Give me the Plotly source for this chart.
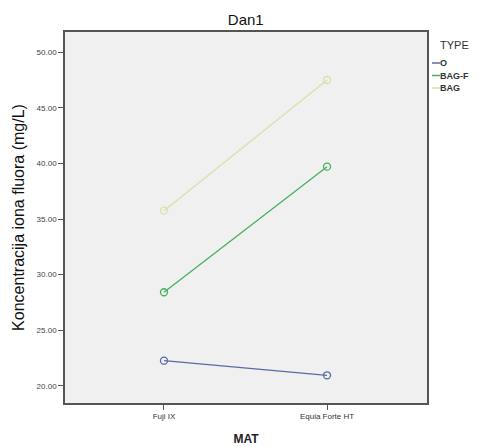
import plotly.graph_objects as go

categories = ["Fuji IX", "Equia Forte HT"]
series_names = ["O", "BAG-F", "BAG"]
o_values = [22.27, 20.96]
bagf_values = [28.42, 39.70]
bag_values = [35.75, 47.49]
colors = ["#5a6aa8", "#45b05e", "#dcdfa8"]
y_ticks = [20, 25, 30, 35, 40, 45, 50]

W, H = 479, 446
ML, MR, MT, MB = 65, 52, 32, 43

fig = go.Figure()
for name, vals, c in zip(series_names, [o_values, bagf_values, bag_values], colors):
    fig.add_trace(go.Scatter(
        x=[0, 1], y=vals, name=name, mode="lines+markers",
        line=dict(color=c, width=1.3),
        marker=dict(symbol="circle-open", size=7, color=c, line=dict(width=1.3)),
        showlegend=False,
    ))

# manual legend in the right margin (paper coords)
def px_x(p):
    return (p - ML) / (W - ML - MR)

def px_y(p):
    return 1 - (p - MT) / (H - MT - MB)

fig.add_annotation(text="TYPE", xref="paper", yref="paper", x=px_x(454), y=px_y(45),
                   xanchor="center", yanchor="middle", showarrow=False,
                   font=dict(size=11, color="#333333"))
for i, (name, c) in enumerate(zip(series_names, colors)):
    yy = px_y(63 + i * 12.5)
    fig.add_shape(type="line", xref="paper", yref="paper", x0=px_x(432), x1=px_x(440),
                  y0=yy, y1=yy, line=dict(color=c, width=1.5))
    fig.add_annotation(text="<b>" + name + "</b>", xref="paper", yref="paper", x=px_x(438), y=yy,
                       xanchor="left", yanchor="middle", showarrow=False,
                       font=dict(size=9, color="#333333"))

fig.update_layout(
    width=W, height=H,
    margin=dict(l=ML, r=MR, t=MT, b=MB, autoexpand=False),
    paper_bgcolor="white",
    plot_bgcolor="#f0f0f0",
    font=dict(family="Liberation Sans, Arial", color="#333333"),
    title=dict(text="Dan1", x=0.513, xanchor="center", y=0.955, yanchor="middle",
               font=dict(size=15, color="#111111")),
    showlegend=False,
    xaxis=dict(
        range=[-0.607, 1.613], tickvals=[0, 1], ticktext=categories,
        showgrid=False, zeroline=False,
        showline=True, mirror=True, linecolor="#555555", linewidth=1.5,
        ticks="outside", ticklen=5, tickcolor="#555555",
        tickfont=dict(size=8, color="#333333"),
        title=dict(text="<b>MAT</b>", font=dict(size=12, color="#222222"), standoff=14),
    ),
    yaxis=dict(
        range=[18.47, 51.8], tickvals=y_ticks,
        ticktext=[f"{v:.2f}" for v in y_ticks],
        showgrid=False, zeroline=False,
        showline=True, mirror=True, linecolor="#555555", linewidth=1.5,
        ticks="outside", ticklen=5, tickcolor="#555555",
        tickfont=dict(size=8, color="#444444"),
        title=dict(text="Koncentracija iona fluora (mg/L)", font=dict(size=16, color="#111111"), standoff=8),
    ),
)

fig.write_html("out.html")
